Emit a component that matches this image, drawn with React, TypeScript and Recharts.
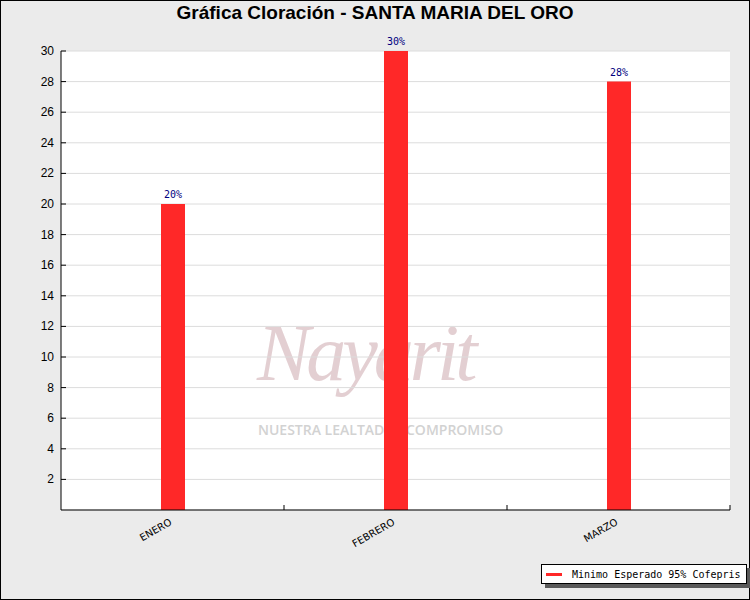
import React from 'react';
import { ComposedChart, Bar, XAxis, YAxis, CartesianGrid, Legend, LabelList } from 'recharts';

const months = ['ENERO', 'FEBRERO', 'MARZO'];
const cloracion = [20, 30, 28];
const yTicks = [2, 4, 6, 8, 10, 12, 14, 16, 18, 20, 22, 24, 26, 28, 30];
const titulo = 'Gráfica Cloración - SANTA MARIA DEL ORO';
const legendLabel = 'Minimo Esperado 95% Cofepris';

const data = months.map((mes, i) => ({ mes, valor: cloracion[i] }));

const W = 750;
const H = 600;
const PLOT = { left: 61, top: 51, right: 20, bottom: 90 };
const PLOT_W = W - PLOT.left - PLOT.right;
const PLOT_H = H - PLOT.top - PLOT.bottom;
const BAND = PLOT_W / months.length;

const XTick = (props: any) => {
  const { x, y, payload } = props;
  return (
    <g>
      <line x1={x + BAND / 2} y1={y} x2={x + BAND / 2} y2={y - 5} stroke="#000" />
      <text
        x={x}
        y={y + 14}
        textAnchor="end"
        transform={`rotate(-30, ${x}, ${y + 14})`}
        fontFamily="DejaVu Sans"
        fontSize={10}
        fill="#000"
      >
        {payload.value}
      </text>
    </g>
  );
};

const YTick = (props: any) => {
  const { x, y, payload } = props;
  return (
    <g>
      <line x1={x} y1={y} x2={x + 5} y2={y} stroke="#000" />
      <text x={x - 7} y={y + 4} textAnchor="end" fontFamily="Liberation Sans" fontSize={12} fill="#000">
        {payload.value}
      </text>
    </g>
  );
};

const LegendBox = (props: any) => {
  const items = props.payload || [];
  return (
    <div style={{ position: 'relative', width: 206, height: 20 }}>
      <div style={{ position: 'absolute', left: 4, top: 4, width: 206, height: 20, background: '#5a5a5a' }} />
      <div
        style={{
          position: 'absolute', left: 0, top: 0, width: 206, height: 20, boxSizing: 'border-box',
          background: '#fff', border: '1px solid #000', display: 'flex', alignItems: 'center',
        }}
      >
        {items.map((it: any) => (
          <React.Fragment key={it.value}>
            <span style={{ display: 'inline-block', width: 16, height: 3, background: '#ff2828', marginLeft: 4, marginRight: 10 }} />
            <span style={{ fontFamily: 'DejaVu Sans Mono', fontSize: 10, color: '#000', whiteSpace: 'nowrap' }}>
              {it.value}
            </span>
          </React.Fragment>
        ))}
      </div>
    </div>
  );
};

export default function App() {
  return (
    <div style={{ position: 'absolute', left: 0, top: 0, width: W, height: H, background: '#ebebeb', overflow: 'hidden' }}>
      <div
        style={{
          position: 'absolute', left: 0, top: 0, width: W, height: H, boxSizing: 'border-box',
          border: '1px solid #000',
        }}
      />
      <div
        style={{
          position: 'absolute', left: 0, top: 2, width: W, textAlign: 'center',
          fontFamily: 'Liberation Sans', fontWeight: 'bold', fontSize: 19, color: '#000',
        }}
      >
        {titulo}
      </div>
      {/* plot background with the watermark */}
      <div style={{ position: 'absolute', left: PLOT.left, top: PLOT.top, width: PLOT_W, height: PLOT_H, background: '#fff' }}>
        <div
          style={{
            position: 'absolute', left: 196, top: 262, fontFamily: 'Liberation Serif', fontStyle: 'italic',
            fontSize: 80, letterSpacing: -4, color: '#e3cfd2', whiteSpace: 'nowrap', lineHeight: 1,
          }}
        >
          Nayarit
        </div>
        <div
          style={{
            position: 'absolute', left: 197, top: 369, fontFamily: 'Open Sans', fontWeight: 600,
            fontSize: 14, color: '#d2d2d2', whiteSpace: 'nowrap',
          }}
        >
          NUESTRA LEALTAD
        </div>
        <div
          style={{
            position: 'absolute', left: 345, top: 369, fontFamily: 'Open Sans', fontWeight: 600,
            fontSize: 14, color: '#d2d2d2', whiteSpace: 'nowrap',
          }}
        >
          COMPROMISO
        </div>
      </div>
      <div style={{ position: 'absolute', left: 0, top: 0 }}>
        <ComposedChart
          width={W}
          height={H}
          data={data}
          margin={{ top: PLOT.top, right: PLOT.right, bottom: 60, left: 0 }}
        >
          <CartesianGrid vertical={false} stroke="#dcdcdc" strokeDasharray="" fill="none" />
          <XAxis
            dataKey="mes"
            height={30}
            axisLine={{ stroke: '#000' }}
            tickLine={false}
            tickSize={0}
            tickMargin={0}
            tick={<XTick />}
            interval={0}
          />
          <YAxis
            width={61}
            domain={[0, 30]}
            ticks={yTicks}
            axisLine={{ stroke: '#000' }}
            tickLine={false}
            tickSize={0}
            tickMargin={0}
            tick={<YTick />}
            interval={0}
          />
          <Legend
            layout="vertical"
            align="center"
            verticalAlign="middle"
            content={<LegendBox />}
            wrapperStyle={{ left: 541, top: 564, width: 210, height: 24 }}
          />
          <Bar dataKey="valor" name={legendLabel} fill="#ff2828" barSize={24} legendType="line" isAnimationActive={false}>
            <LabelList
              dataKey="valor"
              position="top"
              offset={6}
              formatter={(v: any) => `${v}%`}
              fill="#000080"
              fontFamily="DejaVu Sans Mono"
              fontSize={10}
            />
          </Bar>
        </ComposedChart>
      </div>
    </div>
  );
}
